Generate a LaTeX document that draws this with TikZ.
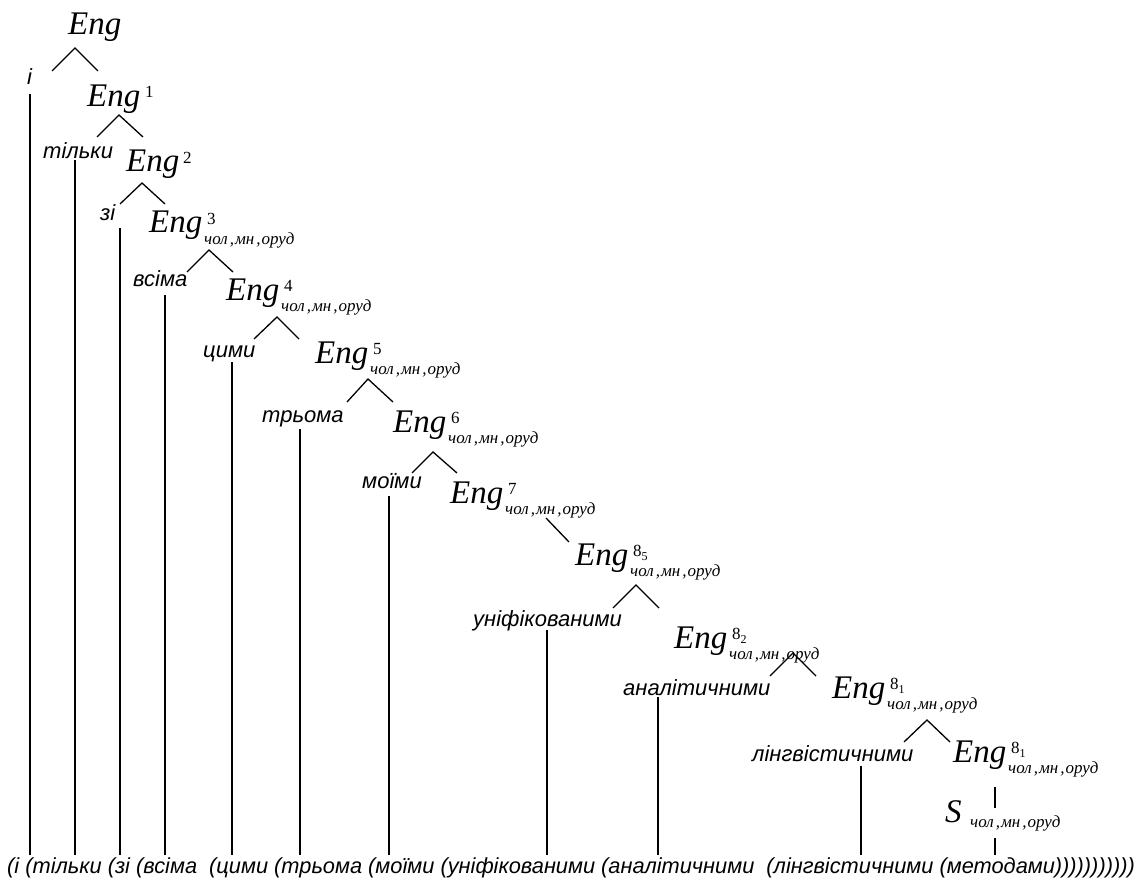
\documentclass[tikz,border=0pt]{standalone}
\usepackage{fontspec}
\setmainfont{Liberation Serif}
\newfontfamily\arialf{Liberation Sans}
\tikzset{
  eng/.style={font=\fontsize{33}{33}\selectfont\itshape, inner sep=0pt, anchor=base west},
  supx/.style={font=\fontsize{17}{17}\selectfont\upshape, inner sep=0pt, anchor=base west},
  subx/.style={font=\fontsize{17}{17}\selectfont\itshape, inner sep=0pt, anchor=base west},
  word/.style={font=\arialf\fontsize{22}{22}\selectfont\itshape, inner sep=0pt, anchor=base west},
  bottomtext/.style={font=\arialf\fontsize{21.8}{22}\selectfont\itshape, inner sep=0pt, anchor=base west},
  link/.style={line width=1.3pt, line cap=butt},
}
\newcommand\subtxt{чол\kern2pt,\kern1pt мн\kern2pt,\kern1pt оруд}
\newcommand\EngN[4]{%
  \node[eng] (#1) at (#2,#3) {Eng};
  \node[supx] (#1sup) at (#2+58,#3-9) {#4};
  \node[subx] (#1sub) at (#2+55,#3+11) {\subtxt};
}
\newcommand\eightsub[1]{8\raisebox{-4pt}{\fontsize{12}{12}\selectfont #1}}
\begin{document}
\begin{tikzpicture}[x=1pt,y=-1pt]
\useasboundingbox (0,0) rectangle (1144,880);
% Eng nodes
\node[eng] (e0) at (68,35) {Eng};
\node[eng] (e1) at (87,107) {Eng};
\node[supx] (e1sup) at (145,98) {1};
\node[eng] (e2) at (126,172) {Eng};
\node[supx] (e2sup) at (183,164) {2};
\EngN{e3}{149}{233}{3}
\EngN{e4}{226}{300}{4}
\EngN{e5}{315}{363}{5}
\EngN{e6}{393}{432}{6}
\EngN{e7}{450}{503}{7}
\EngN{e8}{575}{565}{\eightsub{5}}
\EngN{e9}{674}{648}{\eightsub{2}}
\EngN{e10}{832}{698}{\eightsub{1}}
\EngN{e11}{953}{762}{\eightsub{1}}
\node[eng] (s) at (945,822) {S};
\node[subx] (ssub) at (970,827) {\subtxt};
% words
\node[word] (w0) at (27,85) {і};
\node[word] (w1) at (43,159) {тільки};
\node[word] (w2) at (100,220) {зі};
\node[word] (w3) at (133,286) {всіма};
\node[word] (w4) at (203,357) {цими};
\node[word] (w5) at (262,422) {трьома};
\node[word] (w6) at (362,488) {моїми};
\node[word] (w7) at (473,626) {уніфікованими};
\node[word] (w8) at (623,695) {аналітичними};
\node[word] (w9) at (752,761) {лінгвістичними};
\node[bottomtext] (bot) at (7,873) {(і (тільки (зі (всіма~ (цими (трьома (моїми (уніфікованими (аналітичними~ (лінгвістичними (методами)))))))))))};
% branch coordinates
\foreach \n/\ax/\ay/\lx/\ly/\rx/\ry in {
  0/75/48/52/71/98/71,
  1/119/115/97/137/143/137,
  2/142/183/120/204/165/204,
  3/209/250/187/272/233/272,
  4/277/317/254/339/299/339,
  5/368/379/347/402/393/402,
  6/433/452/412/473/457/473,
  8/636/585/613/608/659/608,
  9/793/653/770/676/816/676,
  10/927/720/904/742/950/742}{
  \coordinate (a\n) at (\ax,\ay);
  \coordinate (l\n) at (\lx,\ly);
  \coordinate (r\n) at (\rx,\ry);
  \draw[link] (l\n) -- (a\n) -- (r\n);
}
\coordinate (a7) at (546,518);
\coordinate (r7) at (569,542);
\draw[link] (a7) -- (r7);
% S links
\coordinate (s1) at (995,787);
\coordinate (s2) at (995,808);
\coordinate (s3) at (995,838);
\coordinate (s4) at (995,855);
\draw[link] (s1) -- (s2);
\draw[link] (s3) -- (s4);
% vertical lines from words to bottom
\foreach \n/\vx/\vy in {0/30/94, 1/75/160, 2/120/228, 3/165/295, 4/232/362,
  5/300/429, 6/389/496, 7/547/630, 8/658/697, 9/861/766}{
  \coordinate (vt\n) at (\vx,\vy);
  \coordinate (vb\n) at (\vx,855);
  \draw[link] (vt\n) -- (vb\n);
}
\end{tikzpicture}
\end{document}
